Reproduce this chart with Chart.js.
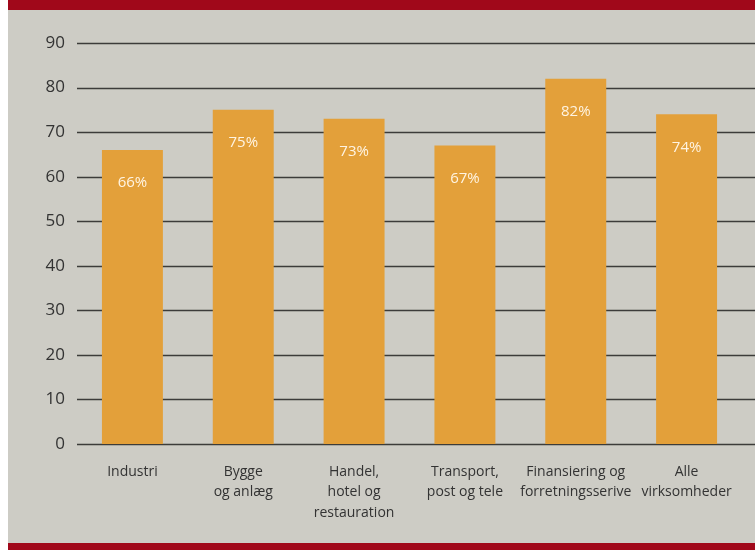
<!DOCTYPE html>
<html>
<head>
<meta charset="utf-8">
<script src="https://cdn.jsdelivr.net/npm/chart.js@4/dist/chart.umd.min.js"></script>
<style>
  html, body { margin: 0; padding: 0; background: #ffffff; }
  #wrap { width: 755px; height: 550px; }
</style>
</head>
<body>
<div id="wrap"><canvas id="shareChart" width="755" height="550"></canvas></div>
<script>
// Andel per branche (procent)
const categories = [
    ['Industri'],
    ['Bygge', 'og anlæg'],
    ['Handel,', 'hotel og', 'restauration'],
    ['Transport,', 'post og tele'],
    ['Finansiering og', 'forretningsserive'],
    ['Alle', 'virksomheder']
];
const shares = [66, 75, 73, 67, 82, 74];
const yTicks = [0, 10, 20, 30, 40, 50, 60, 70, 80, 90];

const FONT = '"Open Sans", "Noto Sans", sans-serif';
const RED = '#a0081a';
const PANEL = '#cdccc5';

// Panel background with red bands top and bottom
const framePlugin = {
    id: 'frame',
    beforeDraw(chart) {
        const c = chart.ctx;
        const w = chart.width, h = chart.height;
        c.save();
        c.fillStyle = '#ffffff';
        c.fillRect(0, 0, w, h);
        c.fillStyle = PANEL;
        c.fillRect(8, 0, w - 8, h);
        c.fillStyle = RED;
        c.fillRect(8, 0, w - 8, 10);
        c.fillRect(8, 543, w - 8, h - 543);
        c.restore();
    }
};

// Horizontal grid lines, running on to the right edge of the panel
const gridPlugin = {
    id: 'gridLines',
    beforeDatasetsDraw(chart) {
        const c = chart.ctx;
        const y = chart.scales.y;
        const area = chart.chartArea;
        c.save();
        c.strokeStyle = '#3c3c3a';
        c.lineWidth = 1.4;
        yTicks.forEach(v => {
            const py = Math.round(y.getPixelForValue(v)) + 0.5;
            c.beginPath();
            c.moveTo(area.left, py);
            c.lineTo(chart.width, py);
            c.stroke();
        });
        c.restore();
    }
};

// Value labels inside the top of each bar
const valueLabelPlugin = {
    id: 'valueLabels',
    afterDatasetsDraw(chart) {
        const c = chart.ctx;
        const meta = chart.getDatasetMeta(0);
        c.save();
        c.fillStyle = '#fff4e2';
        c.font = '15px ' + FONT;
        c.textAlign = 'center';
        c.textBaseline = 'middle';
        meta.data.forEach((bar, i) => {
            c.fillText(shares[i] + '%', bar.x, bar.y + 33);
        });
        c.restore();
    }
};

new Chart(document.getElementById('shareChart'), {
    type: 'bar',
    data: {
        labels: categories,
        datasets: [{
            data: shares,
            backgroundColor: '#e3a03a',
            borderWidth: 0,
            barPercentage: 0.55,
            categoryPercentage: 1.0
        }]
    },
    options: {
        responsive: false,
        animation: false,
        layout: { padding: { top: 43, right: 13, left: 0, bottom: 0 } },
        plugins: {
            legend: { display: false },
            tooltip: { enabled: false }
        },
        scales: {
            x: {
                grid: { display: false, drawTicks: false },
                border: { display: false },
                ticks: {
                    color: '#333333',
                    font: { family: FONT, size: 14, lineHeight: 1.45 },
                    padding: 18,
                    maxRotation: 0,
                    autoSkip: false
                },
                afterFit(scale) { scale.height = 106; }
            },
            y: {
                min: 0,
                max: 90,
                afterBuildTicks(scale) { scale.ticks = yTicks.map(v => ({ value: v })); },
                grid: { display: false, drawTicks: false },
                border: { display: false },
                ticks: {
                    color: '#333333',
                    font: { family: FONT, size: 17 },
                    padding: 12
                },
                afterFit(scale) { scale.width = 77; }
            }
        }
    },
    plugins: [framePlugin, gridPlugin, valueLabelPlugin]
});
</script>
</body>
</html>
